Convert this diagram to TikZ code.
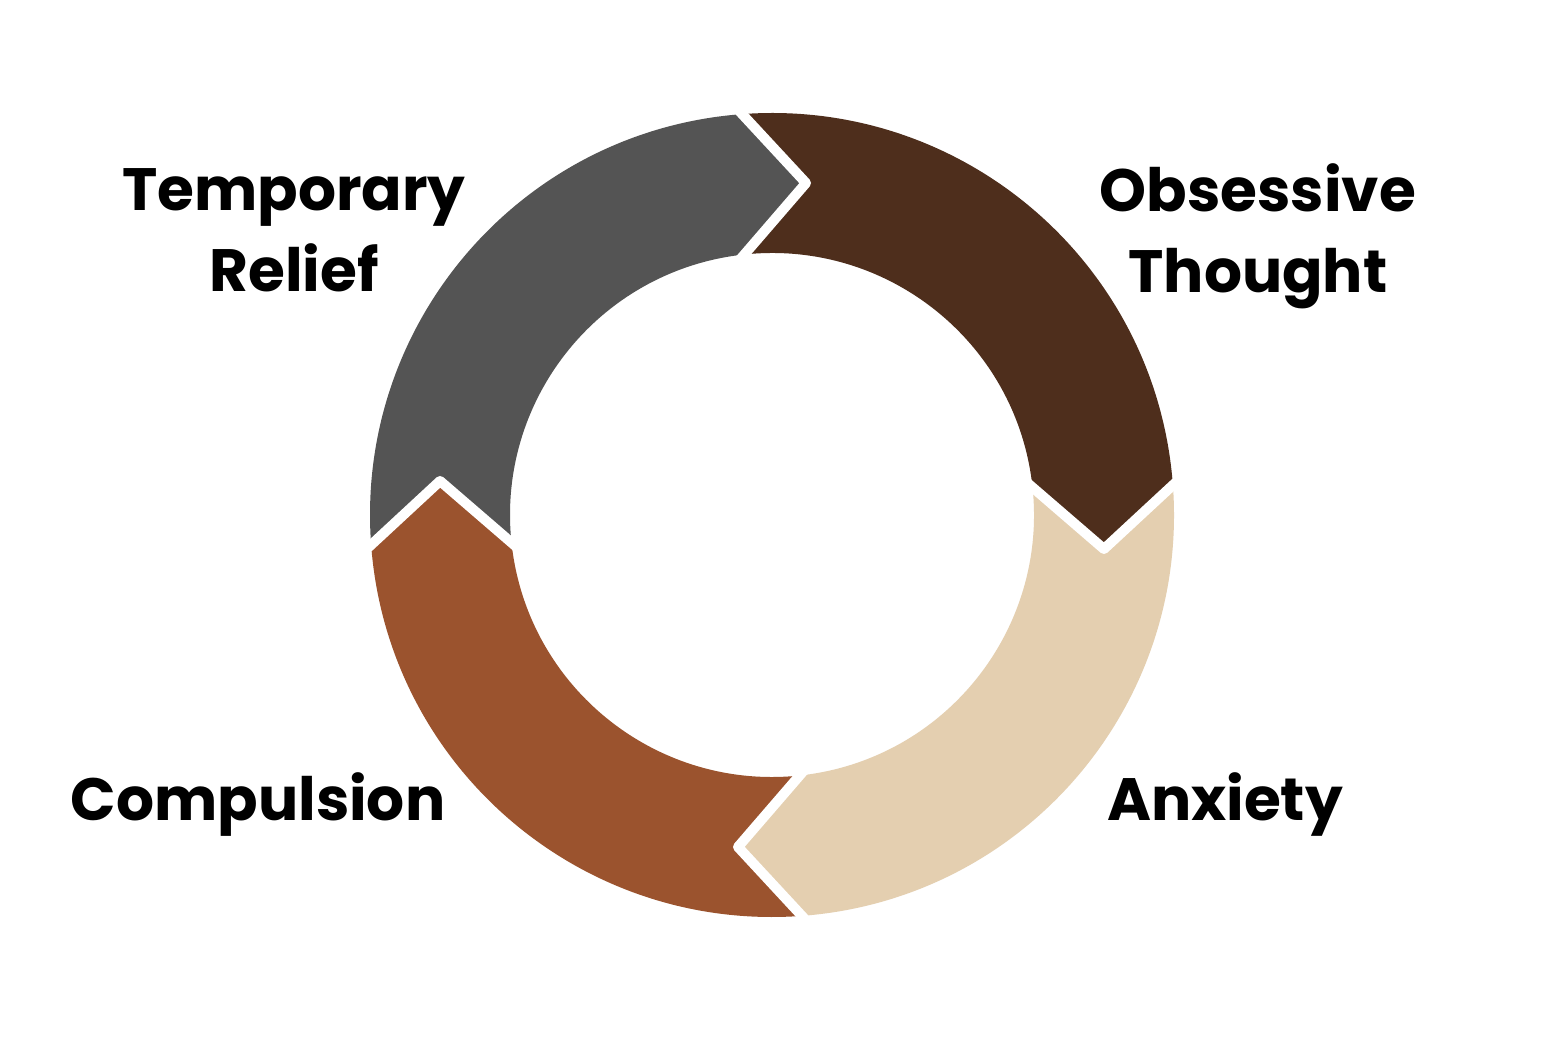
\documentclass[tikz,border=0pt]{standalone}
\usepackage{fontspec}
\setmainfont{Poppins}
\usetikzlibrary{positioning}

\definecolor{ringgray}{HTML}{545454}
\definecolor{ringbrown}{HTML}{4E2E1C}
\definecolor{ringtan}{HTML}{E4CFB0}
\definecolor{ringrust}{HTML}{9B532E}

\tikzset{
  cyclelabel/.style={font=\fontsize{17}{23}\selectfont\bfseries, align=center, text=black},
  joint/.style={draw=white, line width=0.1cm, line join=round, line cap=round}
}

% one arrow-shaped part of the ring, drawn at the top-right and then turned
\newcommand{\ringpart}[2]{%
  \begin{scope}[shift={(c)}, rotate=#1]
    \fill[#2] (94.28:4.02) arc[start angle=94.28, end angle=4.28, radius=4.02]
      -- (-5.85:3.337) -- (6.57:2.62)
      arc[start angle=6.57, end angle=96.57, radius=2.62]
      -- (84.15:3.337) -- cycle;
  \end{scope}}
\newcommand{\ringjoint}[1]{%
  \begin{scope}[shift={(c)}, rotate=#1]
    \draw[joint] (94.6:4.05) -- (84.15:3.337) -- (97:2.58);
  \end{scope}}

\begin{document}
\begin{tikzpicture}
    \useasboundingbox (0,0) rectangle (15.45,10.39);
    \fill[white] (0,0) rectangle (15.45,10.39);
    \coordinate (c) at (7.72,5.24);

    % Ring parts
    \ringpart{0}{ringbrown}
    \ringpart{-90}{ringtan}
    \ringpart{-180}{ringrust}
    \ringpart{90}{ringgray}

    % White joints
    \foreach \r in {0,-90,-180,90}{
        \ringjoint{\r}
    }

    % Labels
    \node[cyclelabel] (relief) at (2.94,8.09) {Temporary\\Relief};
    \node[cyclelabel] (obsessive) at (12.58,8.03) {Obsessive\\Thought};
    \node[cyclelabel, anchor=base] (compulsion) at (2.58,2.19) {Compulsion};
    \node[cyclelabel, anchor=base] (anxiety) at (12.25,2.19) {Anxiety};
\end{tikzpicture}
\end{document}
